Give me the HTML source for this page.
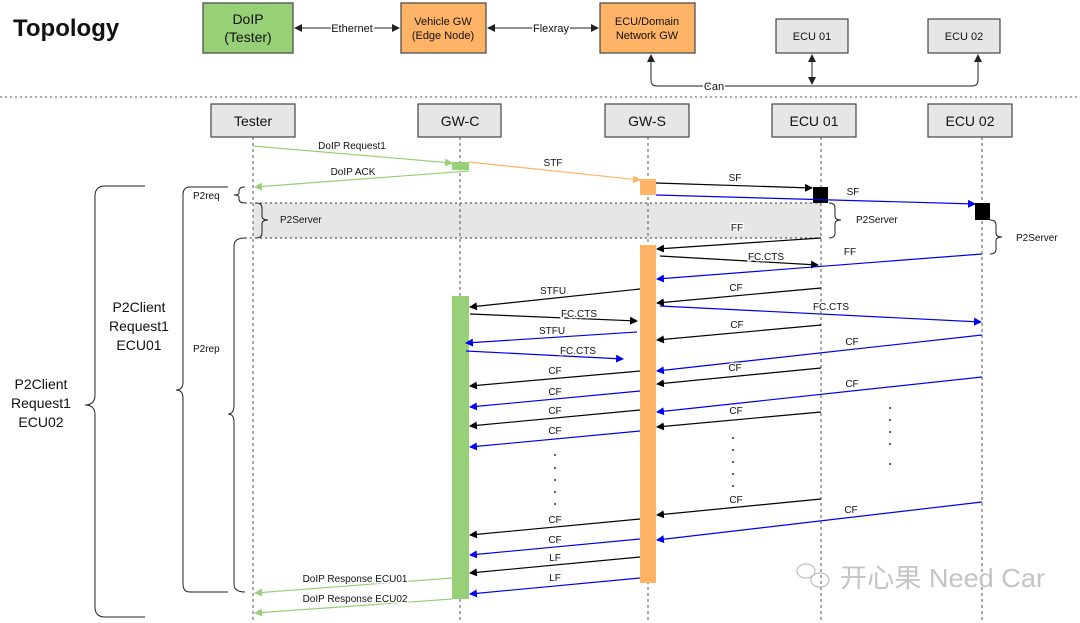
<!DOCTYPE html>
<html><head><meta charset="utf-8"><style>
body{margin:0;background:#fff}
svg{display:block}
text{font-family:"Liberation Sans",Arial,sans-serif;fill:#111}
.l{font-size:10px;text-anchor:middle;paint-order:stroke;stroke:#fff;stroke-width:3px}
.b{stroke:#000;stroke-width:1.2;fill:none;marker-end:url(#ak)}
.u{stroke:#0000ee;stroke-width:1.2;fill:none;marker-end:url(#au)}
.g{stroke:#97d077;stroke-width:1.2;fill:none;marker-end:url(#ag)}
.ll{stroke:#555;stroke-width:1;stroke-dasharray:3,3}
.hd{fill:#e6e6e6;stroke:#444;stroke-width:1.2}
</style></head><body>
<svg width="1080" height="623" viewBox="0 0 1080 623" xmlns="http://www.w3.org/2000/svg">
<defs>
<marker id="ak" markerWidth="8" markerHeight="8" refX="7" refY="4" orient="auto" markerUnits="userSpaceOnUse"><path d="M0,0 L8,4 L0,8 Z" fill="#000"/></marker>
<marker id="au" markerWidth="8" markerHeight="8" refX="7" refY="4" orient="auto" markerUnits="userSpaceOnUse"><path d="M0,0 L8,4 L0,8 Z" fill="#0000ee"/></marker>
<marker id="ag" markerWidth="8" markerHeight="8" refX="7" refY="4" orient="auto" markerUnits="userSpaceOnUse"><path d="M0,0 L8,4 L0,8 Z" fill="#97d077"/></marker>
<marker id="ad" markerWidth="8" markerHeight="8" refX="7" refY="4" orient="auto-start-reverse" markerUnits="userSpaceOnUse"><path d="M0,0 L8,4 L0,8 Z" fill="#222"/></marker>
<marker id="ao" markerWidth="8" markerHeight="8" refX="7" refY="4" orient="auto" markerUnits="userSpaceOnUse"><path d="M0,0 L8,4 L0,8 Z" fill="#ffb366"/></marker>
</defs>

<!-- Topology -->
<text x="13" y="36" style="font-size:24px;font-weight:bold">Topology</text>
<rect x="203" y="3" width="90" height="50" fill="#97d077" stroke="#444" stroke-width="1.2"/>
<text x="248" y="24" style="font-size:14px;text-anchor:middle">DoIP</text>
<text x="248" y="42" style="font-size:14px;text-anchor:middle">(Tester)</text>
<rect x="401" y="3" width="85" height="50" fill="#ffb366" stroke="#444" stroke-width="1.2"/>
<text x="443" y="25" style="font-size:11px;text-anchor:middle">Vehicle GW</text>
<text x="443" y="39" style="font-size:11px;text-anchor:middle">(Edge Node)</text>
<rect x="600" y="3" width="95" height="50" fill="#ffb366" stroke="#444" stroke-width="1.2"/>
<text x="647" y="25" style="font-size:11px;text-anchor:middle">ECU/Domain</text>
<text x="647" y="39" style="font-size:11px;text-anchor:middle">Network GW</text>
<rect x="776" y="19" width="72" height="34" class="hd"/>
<text x="812" y="40" style="font-size:11px;text-anchor:middle">ECU 01</text>
<rect x="928" y="19" width="72" height="34" class="hd"/>
<text x="964" y="40" style="font-size:11px;text-anchor:middle">ECU 02</text>
<line x1="295" y1="28" x2="399" y2="28" stroke="#222" marker-start="url(#ad)" marker-end="url(#ad)"/>
<text x="352" y="32" class="l" style="font-size:11px">Ethernet</text>
<line x1="488" y1="28" x2="598" y2="28" stroke="#222" marker-start="url(#ad)" marker-end="url(#ad)"/>
<text x="551" y="32" class="l" style="font-size:11px">Flexray</text>
<path d="M651,55 L651,80 Q651,86 657,86 L972,86 Q978,86 978,80 L978,55" fill="none" stroke="#222" marker-start="url(#ad)" marker-end="url(#ad)"/>
<line x1="812" y1="55" x2="812" y2="84" stroke="#222" marker-start="url(#ad)" marker-end="url(#ad)"/>
<text x="714" y="90" class="l" style="font-size:11px">Can</text>
<line x1="0" y1="97" x2="1080" y2="97" stroke="#555" stroke-dasharray="2,3"/>

<!-- gray band -->
<rect x="253" y="203" width="568" height="35" fill="#e6e6e6"/>
<line x1="245" y1="203" x2="821" y2="203" stroke="#333" stroke-dasharray="2,3"/>
<line x1="245" y1="238" x2="821" y2="238" stroke="#333" stroke-dasharray="2,3"/>

<!-- lifelines -->
<line x1="253" y1="137" x2="253" y2="623" class="ll"/>
<line x1="460" y1="137" x2="460" y2="623" class="ll"/>
<line x1="648" y1="137" x2="648" y2="623" class="ll"/>
<line x1="821" y1="137" x2="821" y2="623" class="ll"/>
<line x1="982" y1="137" x2="982" y2="623" class="ll"/>

<!-- headers -->
<rect x="211" y="104" width="84" height="33" class="hd"/><text x="253" y="126" style="font-size:14px;text-anchor:middle">Tester</text>
<rect x="418" y="104" width="83" height="33" class="hd"/><text x="460" y="126" style="font-size:14px;text-anchor:middle">GW-C</text>
<rect x="605" y="104" width="84" height="33" class="hd"/><text x="647" y="126" style="font-size:14px;text-anchor:middle">GW-S</text>
<rect x="772" y="104" width="84" height="33" class="hd"/><text x="814" y="126" style="font-size:14px;text-anchor:middle">ECU 01</text>
<rect x="928" y="104" width="84" height="33" class="hd"/><text x="970" y="126" style="font-size:14px;text-anchor:middle">ECU 02</text>

<!-- activations -->
<rect x="452" y="162" width="17" height="8" fill="#97d077"/>
<rect x="640" y="179" width="16" height="16" fill="#ffb366"/>
<rect x="813" y="187" width="15" height="16" fill="#000"/>
<rect x="975" y="203" width="15" height="17" fill="#000"/>
<rect x="640" y="245" width="16" height="338" fill="#ffb366"/>
<rect x="452" y="296" width="17" height="303" fill="#97d077"/>

<!-- braces -->
<path d="M245,187 Q239,187 239,191 L239,193 Q239,195 234,195 Q239,195 239,197 L239,199 Q239,203 245,203" fill="none" stroke="#222"/>
<text x="193" y="199" style="font-size:10px">P2req</text>
<path d="M256,203 Q262,203 262,208 L262,216 Q262,220 268,220 Q262,220 262,224 L262,233 Q262,238 256,238" fill="none" stroke="#222"/>
<text x="280" y="223" style="font-size:10px">P2Server</text>
<path d="M829,203 Q835,203 835,208 L835,216 Q835,220 841,220 Q835,220 835,224 L835,233 Q835,238 829,238" fill="none" stroke="#222"/>
<text x="856" y="223" style="font-size:10px">P2Server</text>
<path d="M990,220 Q996,220 996,225 L996,233 Q996,237 1002,237 Q996,237 996,241 L996,249 Q996,254 990,254" fill="none" stroke="#222"/>
<text x="1016" y="241" style="font-size:10px">P2Server</text>
<path d="M245,238 Q234,238 234,246 L234,405 Q234,414 228,414 Q234,414 234,422 L234,584 Q234,592 245,592" fill="none" stroke="#222"/>
<text x="193" y="352" style="font-size:10px">P2rep</text>
<path d="M228,187 L190,187 Q183,187 183,195 L183,382 Q183,390 176,390 Q183,390 183,398 L183,584 Q183,592 190,592 L228,592" fill="none" stroke="#222"/>
<text x="139" y="312" style="font-size:14px;text-anchor:middle">P2Client</text>
<text x="139" y="331" style="font-size:14px;text-anchor:middle">Request1</text>
<text x="139" y="350" style="font-size:14px;text-anchor:middle">ECU01</text>
<path d="M145,186 L105,186 Q95,186 95,196 L95,395 Q95,405 85,405 Q95,405 95,415 L95,607 Q95,617 105,617 L145,617" fill="none" stroke="#222"/>
<text x="41" y="389" style="font-size:14px;text-anchor:middle">P2Client</text>
<text x="41" y="408" style="font-size:14px;text-anchor:middle">Request1</text>
<text x="41" y="427" style="font-size:14px;text-anchor:middle">ECU02</text>

<!-- messages -->
<line x1="253" y1="146" x2="452" y2="163" class="g"/><text x="352" y="149" class="l">DoIP Request1</text>
<line x1="469" y1="162" x2="640" y2="180" stroke="#ffb366" stroke-width="1.2" marker-end="url(#ao)"/><text x="553" y="166" class="l">STF</text>
<line x1="656" y1="183" x2="812" y2="188" class="b"/><text x="735" y="181" class="l">SF</text>
<line x1="656" y1="195" x2="975" y2="204" class="u"/><text x="853" y="195" class="l">SF</text>
<line x1="469" y1="171" x2="255" y2="187" class="g"/><text x="353" y="175" class="l">DoIP ACK</text>
<line x1="821" y1="238" x2="657" y2="249" class="b"/><text x="737" y="231" class="l">FF</text>
<line x1="660" y1="256" x2="818" y2="265" class="b"/><text x="766" y="260" class="l">FC.CTS</text>
<line x1="982" y1="254" x2="657" y2="279" class="u"/><text x="850" y="255" class="l">FF</text>
<line x1="640" y1="289" x2="470" y2="307" class="b"/><text x="553" y="294" class="l">STFU</text>
<line x1="821" y1="288" x2="657" y2="303" class="b"/><text x="736" y="291" class="l">CF</text>
<line x1="660" y1="306" x2="981" y2="322" class="u"/><text x="831" y="310" class="l">FC.CTS</text>
<line x1="470" y1="314" x2="637" y2="321" class="b"/><text x="579" y="317" class="l">FC.CTS</text>
<line x1="821" y1="325" x2="657" y2="340" class="b"/><text x="737" y="328" class="l">CF</text>
<line x1="637" y1="332" x2="466" y2="343" class="u"/><text x="552" y="334" class="l">STFU</text>
<line x1="982" y1="335" x2="657" y2="371" class="u"/><text x="852" y="345" class="l">CF</text>
<line x1="466" y1="351" x2="623" y2="359" class="u"/><text x="578" y="354" class="l">FC.CTS</text>
<line x1="821" y1="368" x2="657" y2="384" class="b"/><text x="735" y="371" class="l">CF</text>
<line x1="640" y1="371" x2="470" y2="386" class="b"/><text x="555" y="374" class="l">CF</text>
<line x1="982" y1="377" x2="657" y2="412" class="u"/><text x="852" y="387" class="l">CF</text>
<line x1="640" y1="391" x2="470" y2="407" class="u"/><text x="555" y="395" class="l">CF</text>
<line x1="821" y1="412" x2="657" y2="427" class="b"/><text x="736" y="414" class="l">CF</text>
<line x1="640" y1="410" x2="470" y2="426" class="b"/><text x="555" y="414" class="l">CF</text>
<line x1="640" y1="431" x2="470" y2="447" class="u"/><text x="555" y="434" class="l">CF</text>
<line x1="821" y1="499" x2="657" y2="515" class="b"/><text x="736" y="503" class="l">CF</text>
<line x1="982" y1="502" x2="657" y2="540" class="u"/><text x="851" y="513" class="l">CF</text>
<line x1="640" y1="519" x2="470" y2="535" class="b"/><text x="555" y="523" class="l">CF</text>
<line x1="640" y1="539" x2="470" y2="555" class="u"/><text x="555" y="543" class="l">CF</text>
<line x1="640" y1="557" x2="470" y2="573" class="b"/><text x="555" y="561" class="l">LF</text>
<line x1="640" y1="578" x2="470" y2="594" class="u"/><text x="555" y="581" class="l">LF</text>
<line x1="452" y1="578" x2="255" y2="593" class="g"/><text x="355" y="582" class="l">DoIP Response ECU01</text>
<line x1="452" y1="599" x2="255" y2="613" class="g"/><text x="355" y="602" class="l">DoIP Response ECU02</text>

<!-- dots -->
<g fill="#333">
<circle cx="555" cy="455" r="1"/><circle cx="555" cy="468" r="1"/><circle cx="555" cy="480" r="1"/><circle cx="555" cy="492" r="1"/><circle cx="555" cy="504" r="1"/>
<circle cx="733" cy="438" r="1"/><circle cx="733" cy="450" r="1"/><circle cx="733" cy="462" r="1"/><circle cx="733" cy="474" r="1"/><circle cx="733" cy="486" r="1"/>
<circle cx="890" cy="408" r="1"/><circle cx="890" cy="420" r="1"/><circle cx="890" cy="432" r="1"/><circle cx="890" cy="444" r="1"/><circle cx="890" cy="464" r="1"/>
</g>

<!-- watermark -->
<g opacity="0.7">
<ellipse cx="806" cy="571" rx="9" ry="7" fill="none" stroke="#aaa" stroke-width="1.3"/>
<ellipse cx="820" cy="580" rx="9" ry="7" fill="none" stroke="#aaa" stroke-width="1.3"/>
</g>
<text x="840" y="587" textLength="205" lengthAdjust="spacingAndGlyphs" style="font-size:26px;fill:#c4c4c4;font-family:'Liberation Sans','Noto Sans CJK SC',sans-serif">开心果 Need Car</text>
</svg>
</body></html>
